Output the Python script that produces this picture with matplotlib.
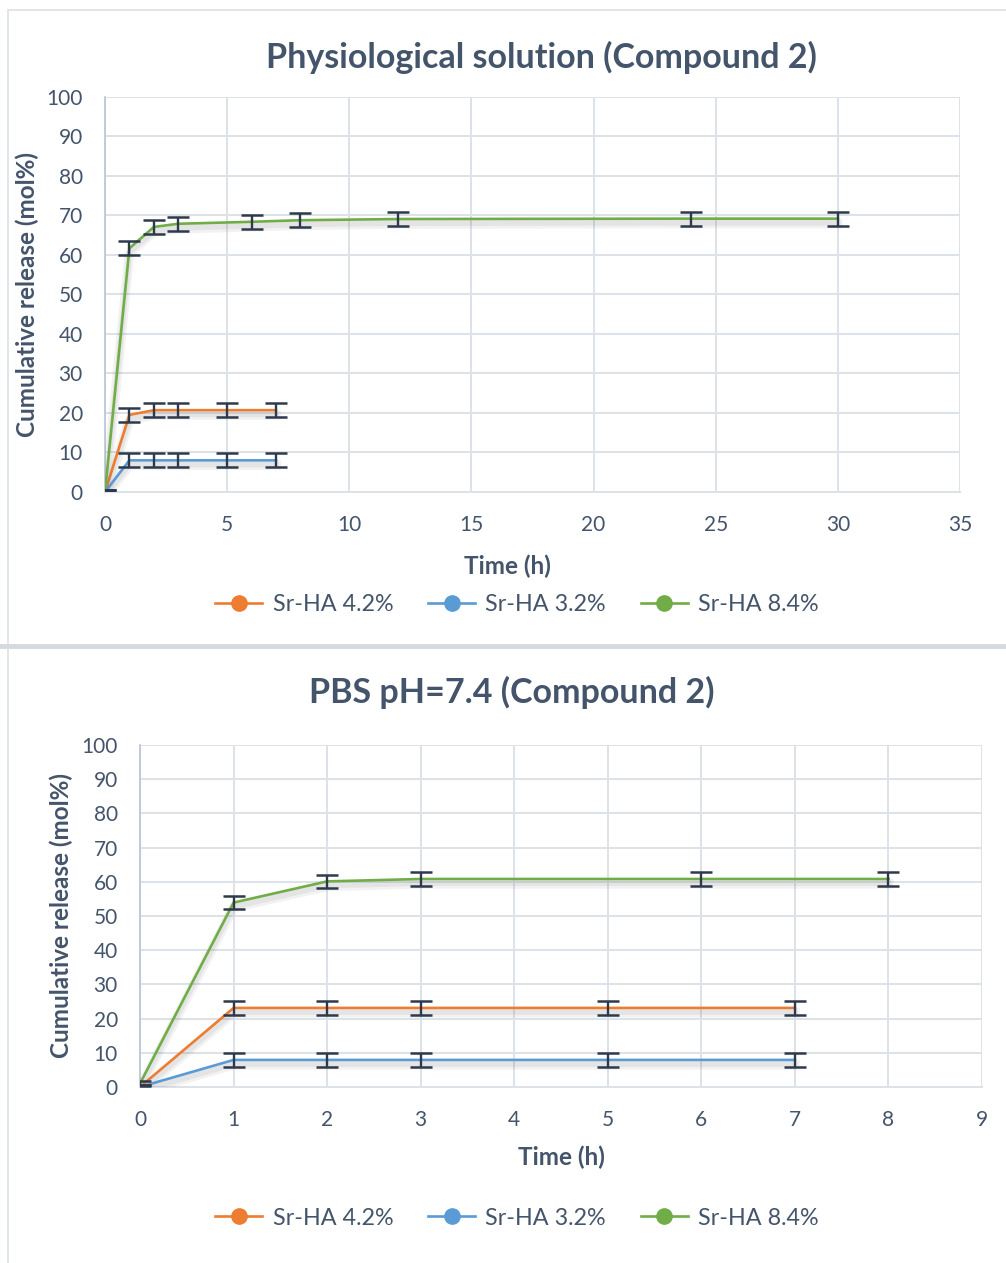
import matplotlib
matplotlib.use("Agg")
import matplotlib.pyplot as plt
import matplotlib.patheffects as pe
from matplotlib.lines import Line2D

plt.rcParams['font.family'] = ['Lato', 'DejaVu Sans']

TEXT = '#44546A'
GRID = '#dde1e8'
ERR = '#2e3a4b'
colors = {'Sr-HA 4.2%': '#ED7D31', 'Sr-HA 3.2%': '#5B9BD5', 'Sr-HA 8.4%': '#70AD47'}

# physiological solution
phys_t_low = [0, 1, 2, 3, 5, 7]
phys_42 = [0, 19.5, 20.7, 20.7, 20.7, 20.7]
phys_32 = [0, 8.0, 8.0, 8.0, 8.0, 8.0]
phys_t_high = [0, 1, 2, 3, 6, 8, 12, 24, 30]
phys_84 = [0, 61.7, 67.1, 67.9, 68.4, 68.8, 69.1, 69.2, 69.2]
phys_err = 1.8

# PBS pH 7.4
pbs_t_low = [0, 1, 2, 3, 5, 7]
pbs_42 = [0, 23.1, 23.1, 23.1, 23.1, 23.1]
pbs_32 = [0, 7.9, 7.9, 7.9, 7.9, 7.9]
pbs_t_high = [0, 1, 2, 3, 6, 8]
pbs_84 = [1.0, 53.9, 60.1, 60.8, 60.8, 60.8]
pbs_err = 2.0
err_at_zero = 0.6

# soft drop shadow under each curve
shadow = [pe.SimpleLineShadow(offset=(0, -3.5), shadow_color='#808080', alpha=0.10, linewidth=7),
          pe.SimpleLineShadow(offset=(0, -3), shadow_color='#808080', alpha=0.12, linewidth=4),
          pe.Normal()]


def draw(ax, series, err, xmax, title, title_x, title_pad, xlabel_x, xlabel_y):
    for label, x, y in series:
        ax.plot(x, y, color=colors[label], lw=1.9, path_effects=shadow, zorder=3, label=label)
        yerr = [err_at_zero if t == 0 else err for t in x]
        ax.errorbar(x, y, yerr=yerr, fmt='none', ecolor=ERR, elinewidth=1.7,
                    capsize=8, capthick=1.8, zorder=4)
    ax.set_xlim(0, xmax)
    ax.set_ylim(0, 100)
    ax.set_yticks(range(0, 101, 10))
    ax.grid(True, color=GRID, lw=1.4)
    ax.set_axisbelow(True)
    for s in ['top', 'right']:
        ax.spines[s].set_visible(False)
    ax.spines['left'].set_color('#b8c4d8')
    ax.spines['bottom'].set_color(GRID)
    ax.spines['left'].set_linewidth(1.2)
    ax.spines['bottom'].set_linewidth(1.4)
    ax.tick_params(length=0, labelsize=15, labelcolor=TEXT)
    ax.tick_params(axis='y', pad=16)
    ax.tick_params(axis='x', pad=16.5)
    ax.set_ylabel('Cumulative release (mol%)', fontsize=17.5, fontweight='bold', color=TEXT)
    ax.set_xlabel('Time (h)', fontsize=17.5, fontweight='bold', color=TEXT)
    ax.xaxis.set_label_coords(xlabel_x, xlabel_y)
    ax.set_title(title, fontsize=24.5, fontweight='bold', color=TEXT, pad=title_pad, x=title_x)


fig = plt.figure(figsize=(10.06, 12.63), dpi=100)

ax1 = fig.add_axes([0.1044, 0.6105, 0.8499, 0.3127])
draw(ax1, [('Sr-HA 4.2%', phys_t_low, phys_42),
           ('Sr-HA 3.2%', phys_t_low, phys_32),
           ('Sr-HA 8.4%', phys_t_high, phys_84)], phys_err, 35,
     'Physiological solution (Compound 2)', 0.511, 21, 0.471, -0.158)
ax1.set_xticks(range(0, 36, 5))
ax1.yaxis.set_label_coords(-0.077, 0.5)

ax2 = fig.add_axes([0.1392, 0.1394, 0.837, 0.2708])
draw(ax2, [('Sr-HA 4.2%', pbs_t_low, pbs_42),
           ('Sr-HA 3.2%', pbs_t_low, pbs_32),
           ('Sr-HA 8.4%', pbs_t_high, pbs_84)], pbs_err, 9,
     'PBS pH=7.4 (Compound 2)', 0.442, 30.5, 0.5, -0.172)
ax2.set_xticks(range(0, 10))
ax2.yaxis.set_label_coords(-0.080, 0.5)

handles = [Line2D([], [], color=c, lw=1.9, marker='o', ms=11, markeredgecolor=c)
           for c in colors.values()]
for ax, y in [(ax1, 0.5215), (ax2, 0.0355)]:
    fig.legend(handles, list(colors), loc='center', bbox_to_anchor=(0.514, y), ncol=3,
               frameon=False, fontsize=16.8, labelcolor=TEXT, handlelength=2.0,
               columnspacing=1.5, handletextpad=0.45)

# panel frames
fig.add_artist(Line2D([0.008, 1.0], [0.992, 0.992], transform=fig.transFigure, color=GRID, lw=1.2))
fig.add_artist(Line2D([0.008, 0.008], [0.0, 0.992], transform=fig.transFigure, color=GRID, lw=1.2))
fig.add_artist(Line2D([0.0, 1.0], [0.4885, 0.4885], transform=fig.transFigure, color='#d5d9e0', lw=3.5))

fig.savefig('out.png', dpi=100, facecolor='white')
